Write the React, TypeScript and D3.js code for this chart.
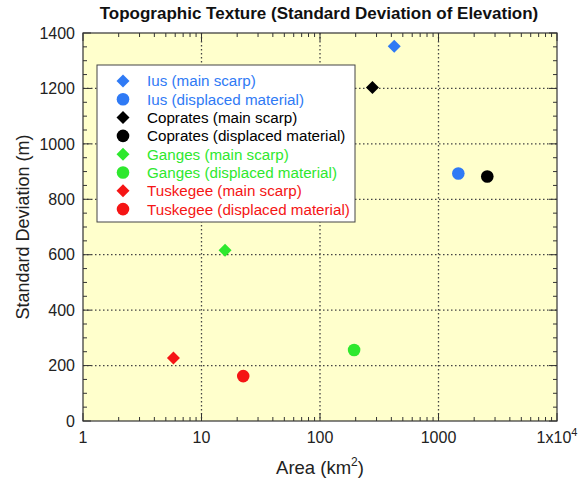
import React from "react";
import * as d3 from "d3";

const seriesNames = [
  "Ius (main scarp)",
  "Ius (displaced material)",
  "Coprates (main scarp)",
  "Coprates (displaced material)",
  "Ganges (main scarp)",
  "Ganges (displaced material)",
  "Tuskegee (main scarp)",
  "Tuskegee (displaced material)",
];
const seriesArea = [423, 1470, 277, 2580, 15.8, 194, 5.8, 22.5];
const seriesStd = [1352, 893, 1203, 882, 616, 256, 227, 162];
const seriesShape = ["diamond", "circle", "diamond", "circle", "diamond", "circle", "diamond", "circle"];
const seriesColor = ["#2f7af5", "#2f7af5", "#000000", "#000000", "#2ee82e", "#2ee82e", "#f51515", "#f51515"];
const xTicks = [1, 10, 100, 1000, 10000];
const xTickLabels = ["1", "10", "100", "1000", "1x10"];
const yTicks = [0, 200, 400, 600, 800, 1000, 1200, 1400];

const W = 579, H = 480;
const L = 83, R = 557, T = 33, B = 421;
const FONT = "'Liberation Sans', Arial, sans-serif";

function Marker({ shape, x, y, color }: { shape: string; x: number; y: number; color: string }) {
  if (shape === "circle") return <circle cx={x} cy={y} r={6.3} fill={color} />;
  const s = 6.5;
  return <path d={`M${x},${y - s}L${x + s},${y}L${x},${y + s}L${x - s},${y}Z`} fill={color} />;
}

export default function App() {
  const x = d3.scaleLog().domain([1, 10000]).range([L, R]);
  const y = d3.scaleLinear().domain([0, 1400]).range([B, T]);
  const minorX: number[] = [];
  for (let d = 1; d < 10000; d *= 10) for (let k = 2; k <= 9; k++) minorX.push(d * k);
  const minorY = d3.range(50, 1400, 50).filter((v) => v % 200 !== 0);
  const gridStyle = { stroke: "#444", strokeWidth: 1.3, strokeDasharray: "1.5,2.5" };
  return (
    <svg width={W} height={H} style={{ position: "absolute", left: 0, top: 0 }} fontFamily={FONT}>
      <rect x={0} y={0} width={W} height={H} fill="#fff" />
      <rect x={L} y={T} width={R - L} height={B - T} fill="#ffffcc" />
      {xTicks.slice(1, -1).map((v) => (
        <line key={"gx" + v} x1={x(v)} x2={x(v)} y1={T} y2={B} {...gridStyle} />
      ))}
      {yTicks.slice(1, -1).map((v) => (
        <line key={"gy" + v} x1={L} x2={R} y1={y(v)} y2={y(v)} {...gridStyle} />
      ))}
      {minorX.map((v) => (
        <g key={"mx" + v} stroke="#333" strokeWidth={1}>
          <line x1={x(v)} x2={x(v)} y1={B} y2={B - 4} />
          <line x1={x(v)} x2={x(v)} y1={T} y2={T + 4} />
        </g>
      ))}
      {xTicks.map((v) => (
        <g key={"Mx" + v} stroke="#333" strokeWidth={1}>
          <line x1={x(v)} x2={x(v)} y1={B} y2={B - 8} />
          <line x1={x(v)} x2={x(v)} y1={T} y2={T + 8} />
        </g>
      ))}
      {minorY.map((v) => (
        <g key={"my" + v} stroke="#333" strokeWidth={1}>
          <line x1={L} x2={L + 4} y1={y(v)} y2={y(v)} />
          <line x1={R} x2={R - 4} y1={y(v)} y2={y(v)} />
        </g>
      ))}
      {yTicks.map((v) => (
        <g key={"My" + v} stroke="#333" strokeWidth={1}>
          <line x1={L} x2={L + 8} y1={y(v)} y2={y(v)} />
          <line x1={R} x2={R - 8} y1={y(v)} y2={y(v)} />
        </g>
      ))}
      <rect x={L} y={T} width={R - L} height={B - T} fill="none" stroke="#333" strokeWidth={1.2} />
      {yTicks.map((v) => (
        <text key={"ty" + v} x={L - 8} y={y(v)} dy="0.36em" textAnchor="end" fontSize={16} fill="#222">
          {v}
        </text>
      ))}
      {xTicks.map((v, i) => (
        <text key={"tx" + v} x={x(v)} y={B + 22} textAnchor="middle" fontSize={16} fill="#222">
          {xTickLabels[i]}
          {i === xTicks.length - 1 ? (
            <tspan dy={-7} fontSize={11}>4</tspan>
          ) : null}
        </text>
      ))}
      <text x={319} y={19} textAnchor="middle" fontSize={17} fontWeight="bold" fill="#111">
        Topographic Texture (Standard Deviation of Elevation)
      </text>
      <text x={320} y={474} textAnchor="middle" fontSize={18.5} fill="#222">
        Area (km<tspan dy={-8} fontSize={12}>2</tspan><tspan dy={8}>)</tspan>
      </text>
      <text transform={`translate(29,227) rotate(-90)`} textAnchor="middle" fontSize={18} fill="#222">
        Standard Deviation (m)
      </text>
      {seriesNames.map((n, i) => (
        <Marker key={"pt" + i} shape={seriesShape[i]} x={x(seriesArea[i])} y={y(seriesStd[i])} color={seriesColor[i]} />
      ))}
      <rect x={97} y={65} width={258} height={157} fill="#fff" stroke="#444" strokeWidth={1} />
      {seriesNames.map((n, i) => {
        const ly = 81 + i * 18.3;
        return (
          <g key={"lg" + i}>
            <Marker shape={seriesShape[i]} x={123} y={ly} color={seriesColor[i]} />
            <text x={147} y={ly} dy="0.36em" fontSize={15.2} fill={seriesColor[i]}>
              {n}
            </text>
          </g>
        );
      })}
    </svg>
  );
}
